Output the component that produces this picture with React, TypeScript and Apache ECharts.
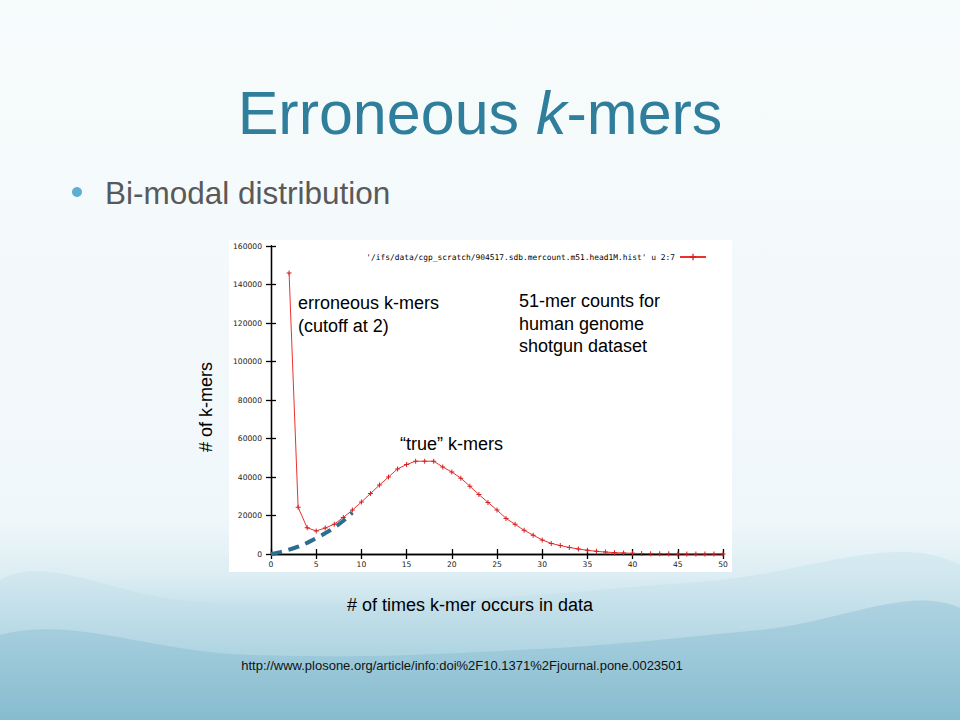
import React, { useEffect, useRef } from "react";
import * as echarts from "echarts";

// occurrences (x) and number of k-mers (y)
const occurrences = [2, 3, 4, 5, 6, 7, 8, 9, 10, 11, 12, 13, 14, 15, 16, 17, 18, 19, 20, 21, 22, 23, 24, 25, 26, 27, 28, 29, 30, 31, 32, 33, 34, 35, 36, 37, 38, 39, 40, 41, 42, 43, 44, 45, 46, 47, 48, 49, 50];
const kmerCounts = [146000, 24300, 13600, 12000, 13500, 15500, 19000, 22800, 27000, 31400, 35800, 40000, 44200, 46500, 48200, 48200, 48200, 45200, 42600, 39400, 35200, 30900, 26800, 22800, 18500, 15400, 12300, 9800, 7300, 5500, 4400, 3400, 2600, 1900, 1400, 1000, 700, 500, 350, 250, 150, 100, 80, 50, 30, 20, 10, 10, 5];

// hand-drawn dashed "true k-mer" extrapolation
const dashX = [0, 1, 2, 3, 4, 5, 6, 7, 8, 9];
const dashY = [0, 1000, 2300, 3800, 5800, 8200, 10800, 13800, 17300, 21500];

const xTicks = { min: 0, max: 50, interval: 5 };
const yTicks = { min: 0, max: 160000, interval: 20000 };

const seriesName = "'/ifs/data/cgp_scratch/904517.sdb.mercount.m51.head1M.hist' u 2:7";

const plusSymbol = "path://M4,0H6V4H10V6H6V10H4V6H0V4H4Z";
const SANS = "'Liberation Sans', Arial, sans-serif";

export default function App() {
  const ref = useRef<HTMLDivElement>(null);
  useEffect(() => {
    if (!ref.current) return;
    const chart = echarts.init(ref.current, undefined, { renderer: "svg" });
    const tickLabel = { color: "#222", fontFamily: "'DejaVu Sans', sans-serif", fontSize: 7.6, formatter: (v: number) => String(v) };
    const axisLine = { show: true, lineStyle: { color: "#000", width: 1.3 } };
    const axisTick = { show: true, inside: true, length: 5, lineStyle: { color: "#000", width: 1.3 } };
    chart.setOption({
      animation: false,
      backgroundColor: new echarts.graphic.LinearGradient(0, 0, 0, 1, [
        { offset: 0, color: "#f7fbfc" },
        { offset: 0.72, color: "#f0f7fa" },
        { offset: 0.8, color: "#dcedf3" },
        { offset: 0.9, color: "#acd3e0" },
        { offset: 1, color: "#78b5c9" },
      ]),
      grid: { left: 271, right: 237, top: 246, bottom: 166 },
      legend: {
        data: [seriesName],
        right: 248,
        top: 248,
        align: "right",
        itemWidth: 26,
        itemHeight: 8,
        textStyle: { fontFamily: "'DejaVu Sans Mono', monospace", fontSize: 7.9, color: "#000" },
      },
      xAxis: [
        {
          type: "value",
          ...xTicks,
          axisLine,
          axisTick,
          axisLabel: { ...tickLabel, margin: 6 },
          splitLine: { show: false },
        },
        {
          type: "value",
          position: "top",
          ...xTicks,
          axisLine,
          axisTick,
          axisLabel: { show: false },
          splitLine: { show: false },
        },
      ],
      yAxis: [
        {
          type: "value",
          ...yTicks,
          axisLine,
          axisTick,
          axisLabel: { ...tickLabel, margin: 9 },
          splitLine: { show: false },
        },
        {
          type: "value",
          position: "right",
          ...yTicks,
          axisLine,
          axisTick,
          axisLabel: { show: false },
          splitLine: { show: false },
        },
      ],
      series: [
        {
          name: seriesName,
          type: "line",
          data: occurrences.map((x, i) => [x, kmerCounts[i]]),
          color: "#ee3030",
          lineStyle: { width: 1, color: "#ee3030" },
          symbol: plusSymbol,
          symbolSize: 5,
          itemStyle: { color: "#d42020" },
          z: 3,
        },
        {
          name: "dashed",
          type: "line",
          data: dashX.map((x, i) => [x, dashY[i]]),
          smooth: true,
          showSymbol: false,
          symbol: "none",
          color: "#2b6f8f",
          lineStyle: { width: 4, color: "#2b6f8f", type: [11, 7] },
          z: 4,
        },
      ],
      graphic: [
        {
          type: "polygon",
          z: -5,
          silent: true,
          shape: {
            points: [[0, 580], [200, 602], [450, 600], [700, 582], [960, 565], [960, 720], [0, 720]],
            smooth: 0.4,
          },
          style: { fill: "rgba(190,222,232,0.35)" },
        },
        {
          type: "polygon",
          z: -4,
          silent: true,
          shape: {
            points: [[0, 635], [250, 655], [520, 650], [760, 630], [960, 608], [960, 720], [0, 720]],
            smooth: 0.4,
          },
          style: { fill: "rgba(110,172,196,0.28)" },
        },
        {
          type: "rect",
          z: -1,
          silent: true,
          shape: { x: 229, y: 240, width: 503, height: 332 },
          style: { fill: "#ffffff" },
        },
        {
          type: "text",
          x: 480,
          y: 113,
          style: {
            text: "{a|Erroneous }{b|k}{a|-mers}",
            align: "center",
            verticalAlign: "middle",
            rich: {
              a: { fontFamily: SANS, fontSize: 61, fill: "#2f7e9c", color: "#2f7e9c" },
              b: { fontFamily: SANS, fontSize: 61, fontStyle: "italic", fill: "#2f7e9c", color: "#2f7e9c" },
            },
          },
        },
        {
          type: "circle",
          shape: { cx: 77, cy: 192, r: 5 },
          style: { fill: "#5caed2" },
        },
        {
          type: "text",
          x: 105,
          y: 193,
          style: {
            text: "Bi-modal distribution",
            fontFamily: SANS,
            fontSize: 31.5,
            fill: "#595959",
            align: "left",
            verticalAlign: "middle",
          },
        },
        {
          type: "text",
          x: 298,
          y: 292,
          style: {
            text: "erroneous k-mers\n(cutoff at 2)",
            fontFamily: SANS,
            fontSize: 18,
            lineHeight: 22.5,
            fill: "#000",
            align: "left",
            verticalAlign: "top",
          },
        },
        {
          type: "text",
          x: 519,
          y: 290,
          style: {
            text: "51-mer counts for\nhuman genome\nshotgun dataset",
            fontFamily: SANS,
            fontSize: 18,
            lineHeight: 22.5,
            fill: "#000",
            align: "left",
            verticalAlign: "top",
          },
        },
        {
          type: "text",
          x: 400,
          y: 444,
          style: {
            text: "\u201ctrue\u201d k-mers",
            fontFamily: SANS,
            fontSize: 18,
            fill: "#000",
            align: "left",
            verticalAlign: "middle",
          },
        },
        {
          type: "text",
          x: 206,
          y: 407,
          rotation: Math.PI / 2,
          style: {
            text: "# of k-mers",
            fontFamily: SANS,
            fontSize: 18,
            fill: "#000",
            align: "center",
            verticalAlign: "middle",
          },
        },
        {
          type: "text",
          x: 470,
          y: 605,
          style: {
            text: "# of times k-mer occurs in data",
            fontFamily: SANS,
            fontSize: 18,
            fill: "#000",
            align: "center",
            verticalAlign: "middle",
          },
        },
        {
          type: "text",
          x: 462,
          y: 665,
          style: {
            text: "http://www.plosone.org/article/info:doi%2F10.1371%2Fjournal.pone.0023501",
            fontFamily: SANS,
            fontSize: 13,
            fill: "#111",
            align: "center",
            verticalAlign: "middle",
          },
        },
      ],
    });
    return () => chart.dispose();
  }, []);
  return (
    <div
      ref={ref}
      style={{ position: "fixed", left: 0, top: 0, width: 960, height: 720 }}
    />
  );
}
